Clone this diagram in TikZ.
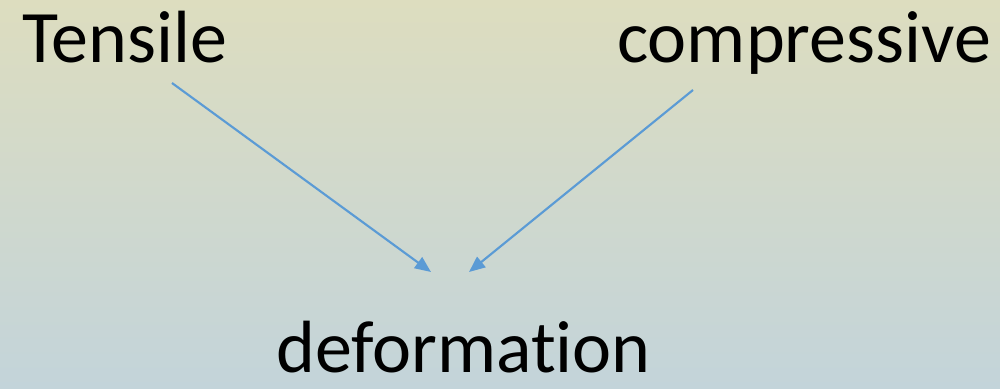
\documentclass[tikz,border=0pt]{standalone}
\usepackage{fontspec}
\setmainfont[Ligatures=NoCommon]{Carlito}
\usetikzlibrary{arrows.meta}
\definecolor{bgtop}{HTML}{DDDDBF}
\definecolor{bgbot}{HTML}{C3D4DA}
\definecolor{arrowblue}{HTML}{5B9BD5}
\tikzset{
  word/.style={anchor=base west, inner sep=0pt, font=\fontsize{55.5}{64}\selectfont, text=black},
  link/.style={draw=arrowblue, line width=1.6pt, -{Triangle[length=12pt, width=10pt]}}
}
\begin{document}
\begin{tikzpicture}[x=0.75pt, y=-0.75pt]
  \shade[top color=bgtop, bottom color=bgbot] (0,0) rectangle (1000,389);
  \useasboundingbox (0,0) rectangle (1000,389);
  \node[word] (tens) at (22,62) {Tensile};
  \node[word] (comp) at (617,62) {compressive};
  \node[word] (def) at (276,372) {deformation};
  \coordinate (t0) at (172,83);
  \coordinate (t1) at (431,272);
  \coordinate (c0) at (693,90);
  \coordinate (c1) at (469,272);
  \draw[link] (t0) -- (t1);
  \draw[link] (c0) -- (c1);
\end{tikzpicture}
\end{document}
